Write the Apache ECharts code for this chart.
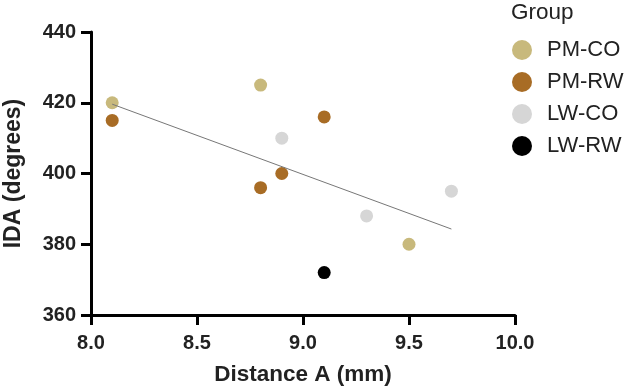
<!DOCTYPE html>
<html lang="en">
<head>
    <meta charset="UTF-8">
    <title>IDA vs Distance A</title>
    <script src="https://cdn.jsdelivr.net/npm/echarts@6/dist/echarts.min.js"></script>
    <style>
        html, body { margin: 0; padding: 0; background: #fff; }
    </style>
</head>
<body>
    <div id="dv" style="width:630px;height:392px;"></div>
</body>
<script>
   // data
   var groups = ['PM-CO', 'PM-RW', 'LW-CO', 'LW-RW']
   var pmCo = [[8.1, 420], [8.8, 425], [9.5, 380]]
   var pmRw = [[8.1, 415], [8.8, 396], [8.9, 400], [9.1, 416]]
   var lwCo = [[8.9, 410], [9.3, 388], [9.7, 395]]
   var lwRw = [[9.1, 372]]
   var fitLine = [[8.1, 419.6], [9.7, 384.3]]
   var groupColors = ['#c8b97c', '#a86c25', '#d6d6d6', '#000000']

   var font = "'Liberation Sans', Arial, Helvetica, sans-serif"

   var myChart = echarts.init(document.getElementById('dv'))

   function dots(name, data, i) {
        return {
            name: name,
            type: 'scatter',
            symbol: 'circle',
            symbolSize: 13,
            itemStyle: { color: groupColors[i], opacity: 1 },
            data: data
        }
   }

   var option = {
        animation: false,
        backgroundColor: '#fff',
        title: {
            text: 'Group',
            left: 511,
            top: 1,
            padding: 0,
            textStyle: { fontFamily: font, fontSize: 22.5, fontWeight: 'normal', color: '#222' }
        },
        legend: {
            orient: 'vertical',
            left: 512,
            top: 39,
            padding: 0,
            itemWidth: 20,
            itemHeight: 20,
            itemGap: 10,
            icon: 'circle',
            data: groups,
            textStyle: { fontFamily: font, fontSize: 22, color: '#222', padding: [0, 0, 0, 10] }
        },
        grid: {
            left: 91,
            right: 115,
            top: 32,
            bottom: 77,
            containLabel: false,
            outerBoundsMode: 'none'
        },
        xAxis: {
            type: 'value',
            min: 8,
            max: 10,
            interval: 0.5,
            name: 'Distance A (mm)',
            nameLocation: 'middle',
            nameGap: 48,
            nameTextStyle: { fontFamily: font, fontSize: 22.5, fontWeight: 'bold', color: '#222' },
            splitLine: { show: false },
            axisLine: { onZero: false, lineStyle: { color: '#000', width: 3 } },
            axisTick: { show: true, length: 10, lineStyle: { color: '#000', width: 3 } },
            axisLabel: {
                margin: 18,
                fontFamily: font,
                fontSize: 20,
                fontWeight: 'bold',
                color: '#222',
                formatter: function (v) { return v.toFixed(1) }
            }
        },
        yAxis: {
            type: 'value',
            min: 360,
            max: 440,
            interval: 20,
            name: 'IDA (degrees)',
            nameLocation: 'middle',
            nameGap: 66,
            nameTextStyle: { fontFamily: font, fontSize: 23, fontWeight: 'bold', color: '#222' },
            splitLine: { show: false },
            axisLine: { show: true, onZero: false, lineStyle: { color: '#000', width: 3 } },
            axisTick: { show: true, length: 10, lineStyle: { color: '#000', width: 3 } },
            axisLabel: {
                margin: 15,
                fontFamily: font,
                fontSize: 20,
                fontWeight: 'bold',
                color: '#222'
            }
        },
        series: [{
            name: 'fit',
            type: 'line',
            symbol: 'none',
            silent: true,
            lineStyle: { color: '#777', width: 1 },
            data: fitLine
        },
        dots(groups[0], pmCo, 0),
        dots(groups[1], pmRw, 1),
        dots(groups[2], lwCo, 2),
        dots(groups[3], lwRw, 3)
        ]
   }
   myChart.setOption(option)
</script>
</html>
